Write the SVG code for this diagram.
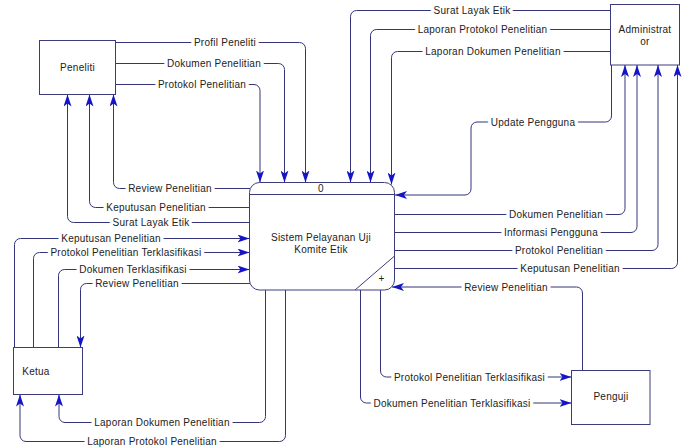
<svg xmlns="http://www.w3.org/2000/svg" width="690" height="447" viewBox="0 0 690 447">
<style>
.bg{fill:#ffffff}
.box{fill:#ffffff;stroke:#3c3c7c;stroke-width:1}
.ln{fill:none;stroke:#34347a;stroke-width:1;marker-end:url(#ah)}
.lbl{font-family:"Liberation Sans",Arial,sans-serif;font-size:10px;letter-spacing:0.25px;fill:#222222;text-anchor:middle;paint-order:stroke;stroke:#ffffff;stroke-width:7px;stroke-linejoin:round}
.nt{font-family:"Liberation Sans",Arial,sans-serif;font-size:10px;letter-spacing:0.25px;fill:#222222;text-anchor:middle}
</style>
<defs>
<marker id="ah" markerUnits="userSpaceOnUse" viewBox="0 0 12 8" markerWidth="12" markerHeight="8" refX="12" refY="4" orient="auto">
<path d="M0,0 L12,4 L0,8 L3,4 Z" fill="#1414c8"/>
</marker>
</defs>
<rect class="bg" x="0" y="0" width="690" height="447"/>
<g id="connectors">
<path class="ln" d="M115.5,42.5 H299.5 a6,6 0 0 1 6,6 V182.5"/>
<path class="ln" d="M115.5,63.5 H278.5 a6,6 0 0 1 6,6 V182.5"/>
<path class="ln" d="M115.5,84.5 H254 a6,6 0 0 1 6,6 V182.5"/>
<path class="ln" d="M250,188.5 H119.5 a6,6 0 0 1 -6,-6 V94.5"/>
<path class="ln" d="M249.5,207.5 H95.5 a6,6 0 0 1 -6,-6 V94.5"/>
<path class="ln" d="M249.5,222.5 H73.5 a6,6 0 0 1 -6,-6 V94.5"/>
<path class="ln" d="M610.5,10.5 H356.5 a6,6 0 0 0 -6,6 V182.5"/>
<path class="ln" d="M610.5,29.5 H376.5 a6,6 0 0 0 -6,6 V182.5"/>
<path class="ln" d="M610.5,51.5 H397.5 a6,6 0 0 0 -6,6 V184.5"/>
<path class="ln" d="M611.5,65 V116 a6,6 0 0 1 -6,6 H477 a6,6 0 0 0 -6,6 V189 a6,6 0 0 1 -6,6 H395"/>
<path class="ln" d="M394.5,214.5 H619 a6,6 0 0 0 6,-6 V65"/>
<path class="ln" d="M394.5,232.5 H631 a6,6 0 0 0 6,-6 V65"/>
<path class="ln" d="M394.5,250.5 H652 a6,6 0 0 0 6,-6 V65"/>
<path class="ln" d="M394.5,268.5 H671.5 a6,6 0 0 0 6,-6 V65"/>
<path class="ln" d="M14.5,347.5 V244.5 a6,6 0 0 1 6,-6 H249.5"/>
<path class="ln" d="M33.5,347.5 V258.5 a6,6 0 0 1 6,-6 H249.5"/>
<path class="ln" d="M58.5,347.5 V275.5 a6,6 0 0 1 6,-6 H249.5"/>
<path class="ln" d="M250,283.5 H86.5 a6,6 0 0 0 -6,6 V347.5"/>
<path class="ln" d="M265.5,290 V416.5 a6,6 0 0 1 -6,6 H65 a6,6 0 0 1 -6,-6 V394.5"/>
<path class="ln" d="M285.5,290 V435.5 a6,6 0 0 1 -6,6 H26 a6,6 0 0 1 -6,-6 V394.5"/>
<path class="ln" d="M582.5,370.5 V293 a6,6 0 0 0 -6,-6 H392"/>
<path class="ln" d="M380.5,289.5 V371 a6,6 0 0 0 6,6 H571.5"/>
<path class="ln" d="M360.5,290 V397 a6,6 0 0 0 6,6 H571.5"/>
<text class="lbl" x="225" y="46">Profil Peneliti</text>
<text class="lbl" x="214" y="67">Dokumen Penelitian</text>
<text class="lbl" x="202" y="88">Protokol Penelitian</text>
<text class="lbl" x="170" y="192">Review Penelitian</text>
<text class="lbl" x="156" y="211">Keputusan Penelitian</text>
<text class="lbl" x="151" y="226">Surat Layak Etik</text>
<text class="lbl" x="472" y="14">Surat Layak Etik</text>
<text class="lbl" x="482.5" y="33">Laporan Protokol Penelitian</text>
<text class="lbl" x="493" y="55">Laporan Dokumen Penelitian</text>
<text class="lbl" x="533" y="125.5">Update Pengguna</text>
<text class="lbl" x="556" y="218">Dokumen Penelitian</text>
<text class="lbl" x="551" y="236">Informasi Pengguna</text>
<text class="lbl" x="559" y="254">Protokol Penelitian</text>
<text class="lbl" x="570" y="272">Keputusan Penelitian</text>
<text class="lbl" x="111" y="242">Keputusan Penelitian</text>
<text class="lbl" x="126" y="256">Protokol Penelitian Terklasifikasi</text>
<text class="lbl" x="133" y="273">Dokumen Terklasifikasi</text>
<text class="lbl" x="137" y="287">Review Penelitian</text>
<text class="lbl" x="162" y="426">Laporan Dokumen Penelitian</text>
<text class="lbl" x="152" y="445">Laporan Protokol Penelitian</text>
<text class="lbl" x="506" y="290.5">Review Penelitian</text>
<text class="lbl" x="469.5" y="380.5">Protokol Penelitian Terklasifikasi</text>
<text class="lbl" x="452" y="406.5">Dokumen Penelitian Terklasifikasi</text>
</g>
<g id="process">
<rect class="box" x="249.5" y="182.5" width="145" height="107.5" rx="10" ry="10"/>
<line x1="249.5" y1="194.5" x2="394.5" y2="194.5" stroke="#3c3c7c" stroke-width="1"/>
<line x1="355" y1="290" x2="394.5" y2="256" stroke="#3c3c7c" stroke-width="1"/>
<text class="nt" x="321" y="192">0</text>
<text class="nt" x="321" y="240.5">Sistem Pelayanan Uji</text>
<text class="nt" x="321" y="252.5">Komite Etik</text>
<text class="nt" x="381.5" y="282" font-size="12">+</text>
</g>
<g id="peneliti">
<rect class="box" x="39.5" y="40.5" width="76" height="54"/>
<text class="nt" x="77.5" y="71">Peneliti</text>
</g>
<g id="administrator">
<rect class="box" x="610.5" y="4.5" width="69" height="60.5"/>
<text class="nt" x="645" y="33">Administrat</text>
<text class="nt" x="645" y="45">or</text>
</g>
<g id="ketua">
<rect class="box" x="13.5" y="347.5" width="69" height="47"/>
<text class="nt" x="36" y="375">Ketua</text>
</g>
<g id="penguji">
<rect class="box" x="571.5" y="370.5" width="78.5" height="54"/>
<text class="nt" x="611" y="400">Penguji</text>
</g>
</svg>
